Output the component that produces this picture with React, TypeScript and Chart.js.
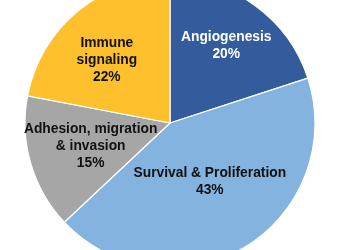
import React, { useEffect, useRef } from "react";
import { Chart, registerables } from "chart.js";

Chart.register(...registerables);

const categories = ["Angiogenesis", "Survival & Proliferation", "Adhesion, migration & invasion", "Immune signaling"];
const labelLines = [["Angiogenesis", "20%"], ["Survival & Proliferation", "43%"], ["Adhesion, migration", "& invasion", "15%"], ["Immune", "signaling", "22%"]];
const values = [20, 43, 15, 22];
const colors = ["#345B9B", "#83B3DE", "#A6A6A6", "#FEC02C"];
const textColors = ["#FFFFFF", "#111111", "#111111", "#111111"];
const labelRadius = [0.66, 0.49, 0.57, 0.615];
const labelAngleShift = [0, -3.5, 0, -5.5];

const labelPlugin = {
  id: "sliceLabels",
  afterDatasetsDraw(chart: any) {
    const ctx = chart.ctx;
    const meta = chart.getDatasetMeta(0);
    ctx.save();
    ctx.font = "bold 13.8px 'Liberation Sans', Arial, sans-serif";
    ctx.textAlign = "center";
    ctx.textBaseline = "middle";
    meta.data.forEach((arc: any, i: number) => {
      const p = arc.getProps(["x", "y", "startAngle", "endAngle", "outerRadius"], true);
      const mid = (p.startAngle + p.endAngle) / 2 + (labelAngleShift[i] * Math.PI) / 180;
      const r = p.outerRadius * labelRadius[i];
      const cx = p.x + Math.cos(mid) * r;
      const cy = p.y + Math.sin(mid) * r;
      const lines = labelLines[i];
      const lh = 16.8;
      ctx.fillStyle = textColors[i];
      lines.forEach((t, j) => {
        ctx.fillText(t, cx, cy + (j - (lines.length - 1) / 2) * lh);
      });
    });
    ctx.restore();
  },
};

export default function App() {
  const ref = useRef<HTMLCanvasElement>(null);
  useEffect(() => {
    const chart = new Chart(ref.current!, {
      type: "pie",
      data: {
        labels: categories,
        datasets: [
          {
            data: values,
            backgroundColor: colors,
            borderColor: "#FFFFFF",
            borderWidth: 1.2,
          },
        ],
      },
      options: {
        responsive: false,
        animation: false,
        radius: 145,
        rotation: 0,
        layout: { padding: 0 },
        plugins: {
          legend: { display: false },
          tooltip: { enabled: false },
        },
      },
      plugins: [labelPlugin],
    });
    return () => chart.destroy();
  }, []);
  return (
    <div style={{ position: "fixed", left: 0, top: 0, width: 350, height: 250, overflow: "hidden", background: "#fff" }}>
      <canvas ref={ref} width={300} height={300} style={{ position: "absolute", left: 20, top: -27, width: 300, height: 300 }} />
    </div>
  );
}
